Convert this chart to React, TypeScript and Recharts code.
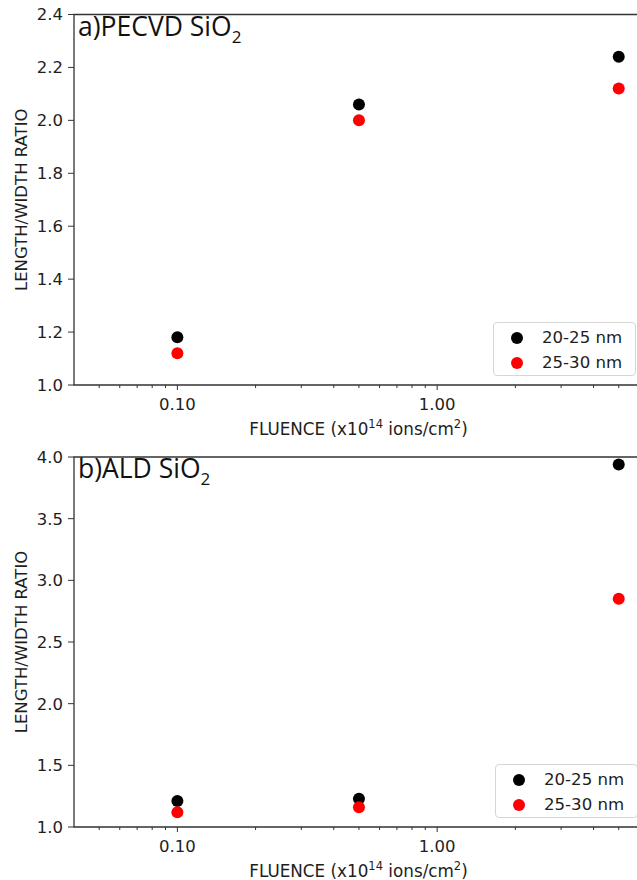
import {
  ScatterChart,
  Scatter,
  XAxis,
  YAxis,
  ReferenceArea,
  Legend,
  Customized,
  Label,
} from "recharts";

// fluence in units of 1e14 ions/cm2
const fluence = [0.1, 0.5, 5];

// a) PECVD SiO2
const pecvdSmall = [1.18, 2.06, 2.24];
const pecvdLarge = [1.12, 2.0, 2.12];

// b) ALD SiO2
const aldSmall = [1.21, 1.23, 3.94];
const aldLarge = [1.12, 1.16, 2.85];

const seriesNames = ["20-25 nm", "25-30 nm"];
const seriesColors = ["#000000", "#ff0000"];

const xDomain = [0.04, 6.2];
const xMajorTicks = [0.1, 1];
const xMinorTicks = [
  0.05, 0.06, 0.07, 0.08, 0.09, 0.2, 0.3, 0.4, 0.5, 0.6, 0.7, 0.8, 0.9, 2, 3,
  4, 5, 6,
];
const pecvdYTicks = [1.0, 1.2, 1.4, 1.6, 1.8, 2.0, 2.2, 2.4];
const aldYTicks = [1.0, 1.5, 2.0, 2.5, 3.0, 3.5, 4.0];

const FONT = "DejaVu Sans";
const INK = "#1e1e1e";
const SPINE = "#333";

const toPoints = (ys: number[]) => fluence.map((x, i) => ({ x, y: ys[i] }));

function XTick({ x, y, payload }: any) {
  const major = xMajorTicks.includes(payload.value);
  return (
    <g>
      <line
        x1={x}
        x2={x}
        y1={y}
        y2={y + (major ? 5 : 3)}
        stroke={SPINE}
        strokeWidth={1}
      />
      {major && (
        <text
          x={x}
          y={y + 25}
          textAnchor="middle"
          fontSize={16.5}
          fontFamily={FONT}
          fill={INK}
        >
          {payload.value.toFixed(2)}
        </text>
      )}
    </g>
  );
}

function XLabel({ viewBox }: any) {
  const cx = viewBox.x + viewBox.width / 2;
  return (
    <text
      x={cx}
      y={viewBox.y + 50}
      textAnchor="middle"
      fontSize={16.8}
      fontFamily={FONT}
      fill={INK}
    >
      FLUENCE (x10
      <tspan dy={-7} fontSize={11.5}>
        14
      </tspan>
      <tspan dy={7}> ions/cm</tspan>
      <tspan dy={-7} fontSize={11.5}>
        2
      </tspan>
      <tspan dy={7}>)</tspan>
    </text>
  );
}

function YLabel({ viewBox }: any) {
  const cy = viewBox.y + viewBox.height / 2;
  const x = 27;
  return (
    <text
      x={x}
      y={cy}
      transform={`rotate(-90, ${x}, ${cy})`}
      textAnchor="middle"
      fontSize={16.5}
      fontFamily={FONT}
      fill={INK}
    >
      LENGTH/WIDTH RATIO
    </text>
  );
}

function LegendBox({ payload }: any) {
  return (
    <div
      style={{
        width: 143,
        height: 54,
        boxSizing: "border-box",
        border: "1px solid #d6d6d6",
        borderRadius: 4,
        background: "rgba(255,255,255,0.8)",
        fontFamily: FONT,
        fontSize: 16.6,
        color: INK,
      }}
    >
      {(payload || []).map((p: any, i: number) => (
        <div
          key={i}
          style={{
            display: "flex",
            alignItems: "center",
            height: 25,
            marginTop: i === 0 ? 2 : 0,
          }}
        >
          <svg
            width={12}
            height={12}
            style={{ marginLeft: 17, marginRight: 19 }}
          >
            <circle cx={6} cy={6} r={6} fill={seriesColors[i]} />
          </svg>
          <span>{p.value}</span>
        </div>
      ))}
    </div>
  );
}

function Title({ text, baseline }: { text: string; baseline: number }) {
  return (
    <text x={78} y={baseline} fontSize={26.5} fontFamily="Open Sans" fill="#111">
      {text}
      <tspan dy={7} fontSize={17}>
        2
      </tspan>
    </text>
  );
}

function Panel({
  small,
  large,
  yDomain,
  yTicks,
  title,
  height,
  marginTop,
  xAxisHeight,
  legendLeft,
}: any) {
  return (
    <ScatterChart
      width={653}
      height={height}
      margin={{ top: marginTop, right: 10, bottom: 0, left: 0 }}
    >
      <XAxis
        dataKey="x"
        type="number"
        scale="log"
        domain={xDomain}
        allowDataOverflow
        ticks={[...xMajorTicks, ...xMinorTicks]}
        interval={0}
        tick={<XTick />}
        tickLine={false}
        tickSize={0}
        tickMargin={0}
        axisLine={false}
        height={xAxisHeight}
      >
        <Label content={<XLabel />} />
      </XAxis>
      <YAxis
        dataKey="y"
        type="number"
        domain={yDomain}
        allowDataOverflow
        ticks={yTicks}
        interval={0}
        tickFormatter={(v: number) => v.toFixed(1)}
        tick={{ fontSize: 16.5, fontFamily: FONT, fill: INK }}
        tickLine={{ stroke: SPINE }}
        tickSize={6}
        tickMargin={5}
        axisLine={false}
        width={74}
      >
        <Label content={<YLabel />} />
      </YAxis>
      <ReferenceArea
        x1={xDomain[0]}
        x2={xDomain[1]}
        y1={yDomain[0]}
        y2={yDomain[1]}
        fill="none"
        stroke={SPINE}
        strokeWidth={1.3}
      />
      <Scatter
        name={seriesNames[0]}
        data={toPoints(small)}
        fill={seriesColors[0]}
        isAnimationActive={false}
        shape={(p: any) => (
          <circle cx={p.cx} cy={p.cy} r={6} fill={seriesColors[0]} />
        )}
      />
      <Scatter
        name={seriesNames[1]}
        data={toPoints(large)}
        fill={seriesColors[1]}
        isAnimationActive={false}
        shape={(p: any) => (
          <circle cx={p.cx} cy={p.cy} r={6} fill={seriesColors[1]} />
        )}
      />
      <Legend
        layout="vertical"
        align="center"
        verticalAlign="middle"
        content={<LegendBox />}
        wrapperStyle={{ left: legendLeft, top: 322, width: 143, height: 54 }}
      />
      <Customized
        component={<Title text={title} baseline={marginTop + 21} />}
      />
    </ScatterChart>
  );
}

export default function App() {
  return (
    <div
      style={{
        position: "absolute",
        left: 0,
        top: 0,
        width: 637,
        height: 880,
        overflow: "hidden",
        background: "#fff",
      }}
    >
      <Panel
        small={pecvdSmall}
        large={pecvdLarge}
        yDomain={[1.0, 2.4]}
        yTicks={pecvdYTicks}
        title="a)PECVD SiO"
        height={442}
        marginTop={14.5}
        xAxisHeight={57}
        legendLeft={493}
      />
      <Panel
        small={aldSmall}
        large={aldLarge}
        yDomain={[1.0, 4.0]}
        yTicks={aldYTicks}
        title="b)ALD SiO"
        height={438}
        marginTop={15}
        xAxisHeight={53}
        legendLeft={495}
      />
    </div>
  );
}
